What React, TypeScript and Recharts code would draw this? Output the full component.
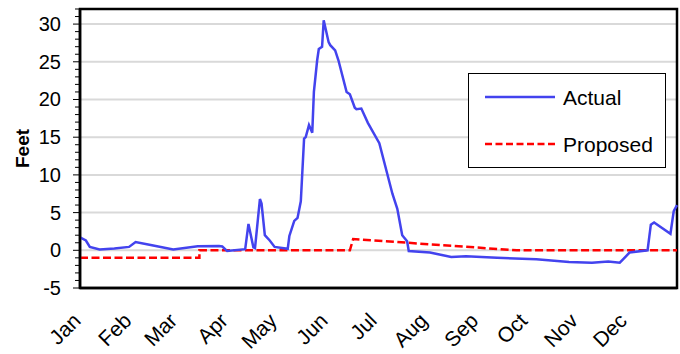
import {
  CartesianGrid,
  ComposedChart,
  Legend,
  Line,
  ReferenceArea,
  XAxis,
  YAxis,
} from "recharts";

// Stage over the year, in feet. x = day of year (0..365).
const actualDays = [
  0, 3.6, 6, 12, 21, 30, 34, 44, 57, 72, 85, 87, 90, 101, 103, 106, 107, 110,
  111, 113, 116, 119, 127, 128, 131, 133, 135, 137, 138, 140, 142, 143, 145,
  146, 148, 149, 152, 153, 156, 158, 163, 165, 168, 169, 172, 176, 183, 191,
  194, 197, 200, 201, 214, 227, 236, 255, 279, 299, 313, 323, 330, 332, 336,
  347, 349, 351, 361, 363, 365,
];
const actualFeet = [
  1.7, 1.3, 0.45, 0.1, 0.25, 0.45, 1.1, 0.66, 0.1, 0.53, 0.57, 0.5, -0.1, 0.15,
  3.5, 0.4, 0.3, 6.8, 6.2, 2.0, 1.3, 0.45, 0.2, 1.9, 3.9, 4.3, 6.5, 14.8, 15,
  16.6, 15.6, 21, 25.2, 26.7, 27, 30.5, 27.6, 27.2, 26.5, 25.2, 21, 20.7, 18.9,
  18.7, 18.8, 16.9, 14.2, 7.5, 5.5, 2.0, 1.2, -0.1, -0.3, -0.9, -0.8, -1.0,
  -1.2, -1.55, -1.65, -1.5, -1.65, -1.2, -0.3, 0, 3.4, 3.7, 2.2, 5.2, 6.0,
];

const proposedDays = [0, 73, 73, 165, 167, 267, 365];
const proposedFeet = [-1, -1, 0, 0, 1.5, 0, 0];

const monthTicks = [0, 31, 59, 90, 120, 151, 181, 212, 243, 273, 304, 334];
const monthLabels = [
  "Jan", "Feb", "Mar", "Apr", "May", "Jun",
  "Jul", "Aug", "Sep", "Oct", "Nov", "Dec",
];

const yTicks = Array.from({ length: 38 }, (_, i) => i - 5);
const gridValues = [-5, 0, 5, 10, 15, 20, 25, 30];

const actualData = actualDays.map((d, i) => ({ day: d, feet: actualFeet[i] }));
const proposedData = proposedDays.map((d, i) => ({ day: d, feet: proposedFeet[i] }));

const FONT = "'Liberation Sans', Arial, sans-serif";
const BLUE = "#4343EE";
const RED = "#FF0000";

function YTick(props: any) {
  const { x, y, payload } = props;
  const v = payload.value as number;
  const major = v % 5 === 0;
  return (
    <g>
      <line x1={x - (major ? 7 : 5)} x2={x} y1={y} y2={y} stroke="#000" strokeWidth={1} />
      {major && (
        <text
          x={x - 19}
          y={y}
          textAnchor="end"
          dominantBaseline="central"
          fontSize={20}
          fontFamily={FONT}
          fill="#000"
        >
          {v}
        </text>
      )}
    </g>
  );
}

function XTick(props: any) {
  const { x, y, payload } = props;
  const i = monthTicks.indexOf(payload.value);
  const tx = x + 2;
  const ty = y + 34;
  return (
    <text
      x={tx}
      y={ty}
      transform={`rotate(-45, ${tx}, ${ty})`}
      textAnchor="end"
      fontSize={21}
      fontFamily={FONT}
      fill="#000"
    >
      {monthLabels[i]}
    </text>
  );
}

function LegendBox() {
  return (
    <div
      style={{
        width: 198,
        height: 95,
        boxSizing: "border-box",
        border: "1px solid #000",
        background: "#fff",
        position: "relative",
      }}
    >
      <svg width={196} height={93} style={{ position: "absolute", left: 0, top: 0 }}>
        <line x1={16} x2={86} y1={23} y2={23} stroke={BLUE} strokeWidth={2.5} />
        <text x={94} y={31} fontSize={21} fontFamily={FONT} fill="#000">
          Actual
        </text>
        <line
          x1={16}
          x2={86}
          y1={70}
          y2={70}
          stroke={RED}
          strokeWidth={2.5}
          strokeDasharray="7 3.5"
        />
        <text x={94} y={78} fontSize={21} fontFamily={FONT} fill="#000">
          Proposed
        </text>
      </svg>
    </div>
  );
}

export default function App() {
  return (
    <div style={{ position: "absolute", left: 0, top: 0, width: 680, height: 354, background: "#fff" }}>
      <ComposedChart
        width={680}
        height={354}
        margin={{ top: 9, right: 3, bottom: 0, left: 0 }}
      >
        <CartesianGrid
          horizontal={true}
          vertical={false}
          horizontalValues={gridValues}
          stroke="#d9d9d9"
          strokeWidth={2}
        />
        <XAxis
          dataKey="day"
          type="number"
          domain={[0, 365]}
          ticks={monthTicks}
          interval={0}
          height={66}
          tickSize={0}
          tickMargin={0}
          tickLine={false}
          axisLine={{ stroke: "#000", strokeWidth: 2.5 }}
          tick={<XTick />}
        />
        <YAxis
          type="number"
          domain={[-5, 32]}
          ticks={yTicks}
          interval={0}
          width={80}
          tickSize={0}
          tickMargin={0}
          tickLine={false}
          axisLine={{ stroke: "#000", strokeWidth: 2.5 }}
          tick={<YTick />}
          label={{
            value: "Feet",
            angle: -90,
            position: "insideLeft",
            offset: 22,
            style: {
              textAnchor: "middle",
              fontSize: 19,
              fontWeight: "bold",
              fontFamily: FONT,
              fill: "#000",
            },
          }}
        />
        <Line
          data={proposedData}
          dataKey="feet"
          type="linear"
          stroke={RED}
          strokeWidth={2.5}
          strokeDasharray="8 3.5"
          dot={false}
          activeDot={false}
          isAnimationActive={false}
        />
        <Line
          data={actualData}
          dataKey="feet"
          type="linear"
          stroke={BLUE}
          strokeWidth={2.5}
          dot={false}
          activeDot={false}
          isAnimationActive={false}
        />
        <ReferenceArea
          x1={0}
          x2={365}
          y1={-5}
          y2={32}
          fill="none"
          stroke="#000"
          strokeWidth={2.5}
          ifOverflow="visible"
        />
        <Legend
          layout="vertical"
          align="center"
          verticalAlign="middle"
          wrapperStyle={{ position: "absolute", left: 468, top: 73, width: 198, height: 95 }}
          content={() => <LegendBox />}
        />
      </ComposedChart>
    </div>
  );
}
